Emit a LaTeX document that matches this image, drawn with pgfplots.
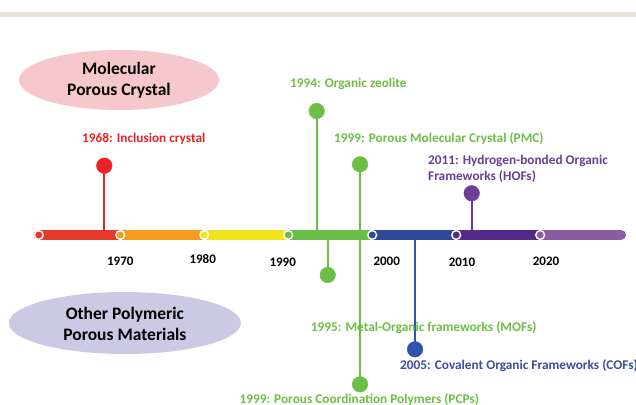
\documentclass[border=0pt]{standalone}
\usepackage{pgfplots}
\pgfplotsset{compat=1.18}
\usepackage{fontspec}
\setmainfont{Carlito}
\usetikzlibrary{shapes.geometric}
\definecolor{redA}{HTML}{E63A29}
\definecolor{orangeA}{HTML}{F69C1E}
\definecolor{yellowA}{HTML}{F2E41C}
\definecolor{greenA}{HTML}{6BBE45}
\definecolor{blueA}{HTML}{2F489C}
\definecolor{purpleA}{HTML}{55298A}
\definecolor{lpurpleA}{HTML}{8B5BA6}
\definecolor{redL}{HTML}{EC2227}
\definecolor{greenL}{HTML}{6CBF44}
\definecolor{blueL}{HTML}{2F55A8}
\definecolor{blueT}{HTML}{3A4EA0}
\definecolor{purpleL}{HTML}{6B3D98}
\definecolor{pinkE}{HTML}{F7C8CB}
\definecolor{lavE}{HTML}{CCC9E5}
\definecolor{bandC}{HTML}{E6E0D4}
\newcommand{\lblfont}{\bfseries\fontsize{13.3bp}{16.6bp}\selectfont}
\newcommand{\tckfont}{\bfseries\fontsize{13bp}{15bp}\selectfont}
\newcommand{\ellfont}{\bfseries\fontsize{17.5bp}{21.5bp}\selectfont}
\begin{document}
\begin{tikzpicture}
\useasboundingbox (0,0) rectangle (636bp,405bp);
\clip (0,0) rectangle (636bp,405bp);
\begin{axis}[
  at={(0,0)}, anchor=south west,
  scale only axis, width=636bp, height=405bp,
  hide axis, clip=false,
  xmin=1955.68, xmax=2031.41,
  ymin=0, ymax=405, y dir=reverse,
]
% top band
\addplot[bandC, line width=5bp] coordinates {(1955.68,14.5) (2031.41,14.5)};
% category ellipses
\node[ellipse, fill=pinkE, minimum width=200bp, minimum height=60bp, inner sep=0pt] at (axis cs:1969.85,80) {};
\node[align=center, font=\ellfont, inner sep=0pt] at (axis cs:1969.85,80) {Molecular\\Porous Crystal};
\node[ellipse, fill=lavE, minimum width=232bp, minimum height=62bp, inner sep=0pt] at (axis cs:1970.55,323) {};
\node[align=center, font=\ellfont, inner sep=0pt] at (axis cs:1970.55,324) {Other Polymeric\\Porous Materials};
% stems
\addplot[redL, line width=2bp] coordinates {(1968.1,165.7) (1968.1,235)};
\addplot[greenL, line width=2bp] coordinates {(1993.39,111) (1993.39,235)};
\addplot[greenL, line width=2bp] coordinates {(1998.55,164.3) (1998.55,384.3)};
\addplot[purpleL, line width=2bp] coordinates {(2011.85,193.3) (2011.85,235)};
\addplot[greenL, line width=2bp] coordinates {(1994.70,235) (1994.70,275)};
\addplot[blueL, line width=2bp] coordinates {(2005.10,235) (2005.10,349.3)};
% timeline bar
\addplot[lpurpleA, line width=10.5bp, line cap=round] coordinates {(2020,235) (2029.6,235)};
\addplot[redA, line width=10.5bp, line cap=round] coordinates {(1960.3,235) (1970,235)};
\addplot[orangeA, line width=10.5bp, line cap=butt] coordinates {(1970,235) (1980,235)};
\addplot[yellowA, line width=10.5bp, line cap=butt] coordinates {(1980,235) (1990,235)};
\addplot[greenA, line width=10.5bp, line cap=butt] coordinates {(1990,235) (2000,235)};
\addplot[blueA, line width=10.5bp, line cap=butt] coordinates {(2000,235) (2010,235)};
\addplot[purpleA, line width=10.5bp, line cap=butt] coordinates {(2010,235) (2020,235)};
% decade rings
\addplot[only marks, mark=*, mark size=4.4bp, mark options={fill=redA, draw=white, line width=1.4bp}] coordinates {(1960.3,235)};
\addplot[only marks, mark=*, mark size=4.4bp, mark options={fill=orangeA, draw=white, line width=1.4bp}] coordinates {(1970,235)};
\addplot[only marks, mark=*, mark size=4.4bp, mark options={fill=yellowA, draw=white, line width=1.4bp}] coordinates {(1980,235)};
\addplot[only marks, mark=*, mark size=4.4bp, mark options={fill=greenA, draw=white, line width=1.4bp}] coordinates {(1990,235)};
\addplot[only marks, mark=*, mark size=4.4bp, mark options={fill=blueA, draw=white, line width=1.4bp}] coordinates {(2000,235)};
\addplot[only marks, mark=*, mark size=4.4bp, mark options={fill=purpleA, draw=white, line width=1.4bp}] coordinates {(2010,235)};
\addplot[only marks, mark=*, mark size=4.4bp, mark options={fill=lpurpleA, draw=white, line width=1.4bp}] coordinates {(2020,235)};
% event balls
\addplot[only marks, mark=*, mark size=7.8bp, color=redL] coordinates {(1968.1,165.7)};
\addplot[only marks, mark=*, mark size=7.8bp, color=greenL] coordinates {(1993.39,111) (1998.55,164.3) (1994.70,275) (1998.55,384.3)};
\addplot[only marks, mark=*, mark size=7.8bp, color=purpleL] coordinates {(2011.85,193.3)};
\addplot[only marks, mark=*, mark size=7.8bp, color=blueL] coordinates {(2005.10,349.3)};
% event labels
\node[anchor=west, inner sep=0pt, text=redL, font=\lblfont] at (axis cs:1965.44,139) {1968: Inclusion crystal};
\node[anchor=west, inner sep=0pt, text=greenL, font=\lblfont] at (axis cs:1990.21,84) {1994: Organic zeolite};
\node[anchor=west, inner sep=0pt, text=greenL, font=\lblfont] at (axis cs:1995.45,139) {1999: Porous Molecular Crystal (PMC)};
\node[anchor=west, inner sep=0pt, text=purpleL, font=\lblfont, align=left] at (axis cs:2006.64,169) {2011: Hydrogen-bonded Organic\\Frameworks (HOFs)};
\node[anchor=west, inner sep=0pt, text=greenL, font=\lblfont] at (axis cs:1992.68,328) {1995: Metal-Organic frameworks (MOFs)};
\node[anchor=west, inner sep=0pt, text=blueT, font=\lblfont] at (axis cs:2003.31,365.5) {2005: Covalent Organic Frameworks (COFs)};
\node[anchor=west, inner sep=0pt, text=greenL, font=\lblfont] at (axis cs:1984.18,400) {1999: Porous Coordination Polymers (PCPs)};
% decade labels
\node[font=\tckfont, inner sep=0pt] at (axis cs:1970.00,261) {1970};
\node[font=\tckfont, inner sep=0pt] at (axis cs:1979.82,259) {1980};
\node[font=\tckfont, inner sep=0pt] at (axis cs:1989.34,262) {1990};
\node[font=\tckfont, inner sep=0pt] at (axis cs:2001.73,261) {2000};
\node[font=\tckfont, inner sep=0pt] at (axis cs:2010.69,262) {2010};
\node[font=\tckfont, inner sep=0pt] at (axis cs:2020.70,261) {2020};
\end{axis}
\end{tikzpicture}
\end{document}
